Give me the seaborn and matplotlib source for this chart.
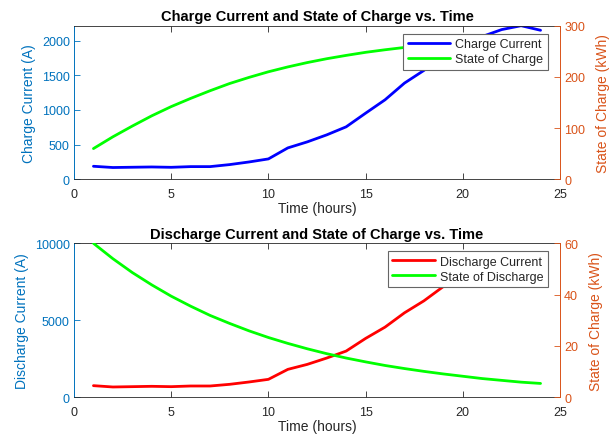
import matplotlib
matplotlib.use('Agg')
import matplotlib.pyplot as plt
import seaborn as sns

# Data
hours = list(range(1, 25))
charge_current = [188, 170, 174, 178, 173, 183, 183, 212, 250, 294, 453, 540,
                  641, 757, 954, 1147, 1388, 1571, 1780, 1950, 2060, 2160, 2216, 2150]
charge_soc = [60, 83, 104, 124, 142, 158, 173, 187, 199, 210, 219.5, 228,
              235.5, 242, 248, 253, 257.5, 261.5, 265, 268, 270.5, 273, 275, 277]
discharge_current = [756, 670, 691, 713, 691, 734, 734, 842, 994, 1166, 1814, 2138,
                     2549, 3002, 3823, 4557, 5486, 6264, 7193, 7800, 8240, 8640, 8860, 8600]
discharge_soc = [60.0, 54.0, 48.6, 43.8, 39.4, 35.5, 31.9, 28.8, 25.9, 23.3, 21.0, 18.9,
                 17.0, 15.3, 13.8, 12.4, 11.2, 10.1, 9.1, 8.2, 7.3, 6.6, 5.9, 5.4]

sns.set_theme(style='white')
plt.rcParams['font.family'] = ['Liberation Sans', 'DejaVu Sans']

LEFT_C = '#0072BD'
RIGHT_C = '#D95319'
AX_C = '#262626'

fig = plt.figure(figsize=(6.09, 4.39), dpi=100)
ax_top = fig.add_axes([74 / 609, 1 - 180.3 / 439, 486 / 609, 153.6 / 439])
ax_bot = fig.add_axes([74 / 609, 1 - 398.3 / 439, 486 / 609, 154 / 439])


def style_pair(ax, ax2, title, ylab_left, ylab_right):
    ax.set_xlim(0, 25)
    ax.set_xticks([0, 5, 10, 15, 20, 25])
    ax.set_title(title, fontsize=10.5, fontweight='bold', color='black', pad=4)
    ax.set_xlabel('Time (hours)', fontsize=10, color=AX_C, labelpad=1)
    ax.set_ylabel(ylab_left, fontsize=10, color=LEFT_C, labelpad=4)
    ax2.set_ylabel(ylab_right, fontsize=10, color=RIGHT_C, labelpad=8)
    for s in ['top', 'bottom']:
        ax.spines[s].set_color(AX_C)
        ax.spines[s].set_linewidth(0.6)
    ax.spines['left'].set_color(LEFT_C)
    ax.spines['left'].set_linewidth(0.7)
    ax2.spines['right'].set_color(RIGHT_C)
    ax2.spines['right'].set_linewidth(0.7)
    for s in ['top', 'bottom', 'left']:
        ax2.spines[s].set_visible(False)
    ax.spines['right'].set_visible(False)
    ax.tick_params(axis='x', direction='in', length=4, width=0.6, colors=AX_C,
                   labelsize=9, top=True, bottom=True, pad=6)
    ax.tick_params(axis='y', direction='in', length=4, width=0.6, colors=LEFT_C,
                   labelsize=9, left=True, pad=3)
    ax2.tick_params(axis='y', direction='in', length=4, width=0.6, colors=RIGHT_C,
                    labelsize=9, right=True, pad=3)
    ax.grid(False)
    ax2.grid(False)


# Charge plot
ax2_top = ax_top.twinx()
sns.lineplot(x=hours, y=charge_current, ax=ax_top, color='#0000FF', lw=2,
             label='Charge Current', legend=False)
sns.lineplot(x=hours, y=charge_soc, ax=ax2_top, color='#00FF00', lw=2,
             label='State of Charge', legend=False)
ax_top.set_ylim(0, max(charge_current))
ax_top.set_yticks([0, 500, 1000, 1500, 2000])
ax2_top.set_ylim(0, 300)
ax2_top.set_yticks([0, 100, 200, 300])
style_pair(ax_top, ax2_top, 'Charge Current and State of Charge vs. Time',
           'Charge Current (A)', 'State of Charge (kWh)')

# Discharge plot
ax2_bot = ax_bot.twinx()
sns.lineplot(x=hours, y=discharge_current, ax=ax_bot, color='#FF0000', lw=2,
             label='Discharge Current', legend=False)
sns.lineplot(x=hours, y=discharge_soc, ax=ax2_bot, color='#00FF00', lw=2,
             label='State of Discharge', legend=False)
ax_bot.set_ylim(0, 10000)
ax_bot.set_yticks([0, 5000, 10000])
ax2_bot.set_ylim(0, 60)
ax2_bot.set_yticks([0, 20, 40, 60])
style_pair(ax_bot, ax2_bot, 'Discharge Current and State of Charge vs. Time',
           'Discharge Current (A)', 'State of Charge (kWh)')

for ax, ax2 in [(ax_top, ax2_top), (ax_bot, ax2_bot)]:
    h1, l1 = ax.get_legend_handles_labels()
    h2, l2 = ax2.get_legend_handles_labels()
    leg = ax2.legend(h1 + h2, l1 + l2, loc='upper right',
                     bbox_to_anchor=(1 - 12.5 / 486, 1 - 8 / 153.6),
                     borderaxespad=0, fontsize=9, frameon=True, fancybox=False,
                     shadow=False, framealpha=1, edgecolor='#666666',
                     handlelength=3.4, handletextpad=0.4, labelspacing=0.25,
                     borderpad=0.35)
    leg.get_frame().set_linewidth(0.8)

fig.savefig('out.png', dpi=100)
